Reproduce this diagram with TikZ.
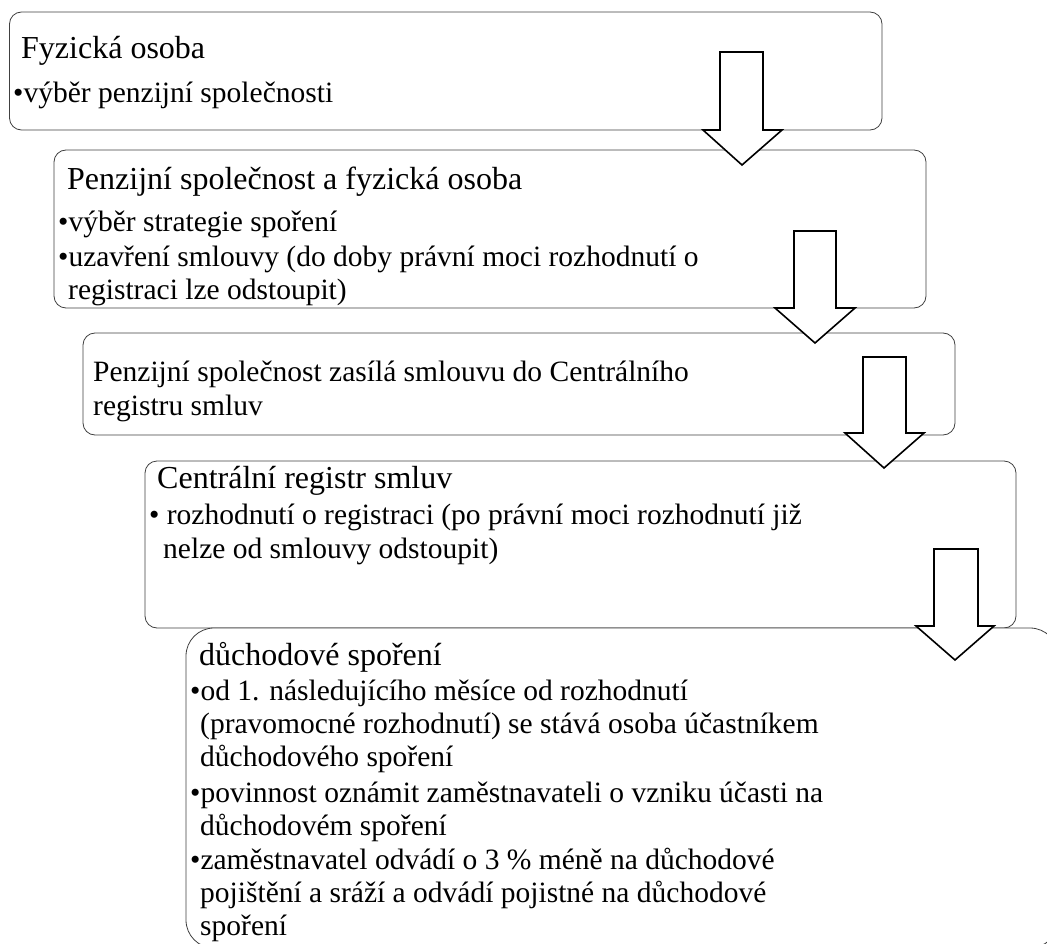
\documentclass[tikz,border=0pt]{standalone}
\usepackage{fontspec}
\setmainfont{Liberation Serif}
\begin{document}
\begin{tikzpicture}[x=1pt,y=-1pt,
  box/.style={draw=black!75, line width=0.8pt, fill=white, rounded corners=12pt, anchor=north west, inner sep=0pt, outer sep=0pt},
  bigbox/.style={box, rounded corners=28pt},
  blockarrow/.style={draw=black, line width=1.6pt, fill=white, line join=miter},
  head/.style={anchor=base west, inner sep=0pt, font=\fontsize{32}{36}\selectfont},
  body/.style={anchor=base west, inner sep=0pt, font=\fontsize{29.5}{34}\selectfont},
]
\useasboundingbox (0,0) rectangle (1047,944);
\begin{scope}
\clip (0,0) rectangle (1047,944);
% boxes
\node[box, minimum width=872.5pt, minimum height=118pt] (b1) at (9.5,12) {};
\node[box, minimum width=872pt, minimum height=158pt] (b2) at (54,150) {};
\node[box, minimum width=872pt, minimum height=102pt] (b3) at (83,333) {};
\node[box, minimum width=871pt, minimum height=167pt] (b4) at (145,461) {};
\node[bigbox, minimum width=872pt, minimum height=320pt] (b5) at (186,628) {};
% block arrows
\draw[blockarrow] (720,52) -- (763,52) -- (763,130) -- (782,130) -- (742,165) -- (703,130) -- (720,130) -- cycle;
\draw[blockarrow] (794,231) -- (836,231) -- (836,308) -- (855,308) -- (815,343) -- (775,308) -- (794,308) -- cycle;
\draw[blockarrow] (863,357) -- (906,357) -- (906,433) -- (924,433) -- (884,468) -- (845,433) -- (863,433) -- cycle;
\draw[blockarrow] (934,549) -- (978,549) -- (978,626) -- (994,626) -- (955,660) -- (916,626) -- (934,626) -- cycle;
\end{scope}
% texts box 1
\node[head] (t1h) at (21,59) {Fyzická osoba};
\node[body] (t1a) at (13,103) {•výběr penzijní společnosti};
% box 2
\node[head] (t2h) at (67,190) {Penzijní společnost a fyzická osoba};
\node[body] (t2a) at (58,232) {•výběr strategie spoření};
\node[body] (t2b) at (58,266) {•uzavření smlouvy (do doby právní moci rozhodnutí o};
\node[body] (t2c) at (68,299) {registraci lze odstoupit)};
% box 3
\node[body] (t3a) at (93,381) {Penzijní společnost zasílá smlouvu do Centrálního};
\node[body] (t3b) at (93,415) {registru smluv};
% box 4
\node[head] (t4h) at (157,488) {Centrální registr smluv};
\node[body] (t4a) at (149,524) {• rozhodnutí o registraci (po právní moci rozhodnutí již};
\node[body] (t4b) at (163,558) {nelze od smlouvy odstoupit)};
% box 5
\node[head] (t5h) at (199,665) {důchodové spoření};
\node[body] (t5a) at (190,700) {•od 1. následujícího měsíce od rozhodnutí};
\node[body] (t5b) at (200,733) {(pravomocné rozhodnutí) se stává osoba účastníkem};
\node[body] (t5c) at (200,766) {důchodového spoření};
\node[body] (t5d) at (190,802) {•povinnost oznámit zaměstnavateli o vzniku účasti na};
\node[body] (t5e) at (200,835) {důchodovém spoření};
\node[body] (t5f) at (190,869) {•zaměstnavatel odvádí o 3 \% méně na důchodové};
\node[body] (t5g) at (200,902) {pojištění a sráží a odvádí pojistné na důchodové};
\node[body] (t5h2) at (200,935) {spoření};
\end{tikzpicture}
\end{document}
